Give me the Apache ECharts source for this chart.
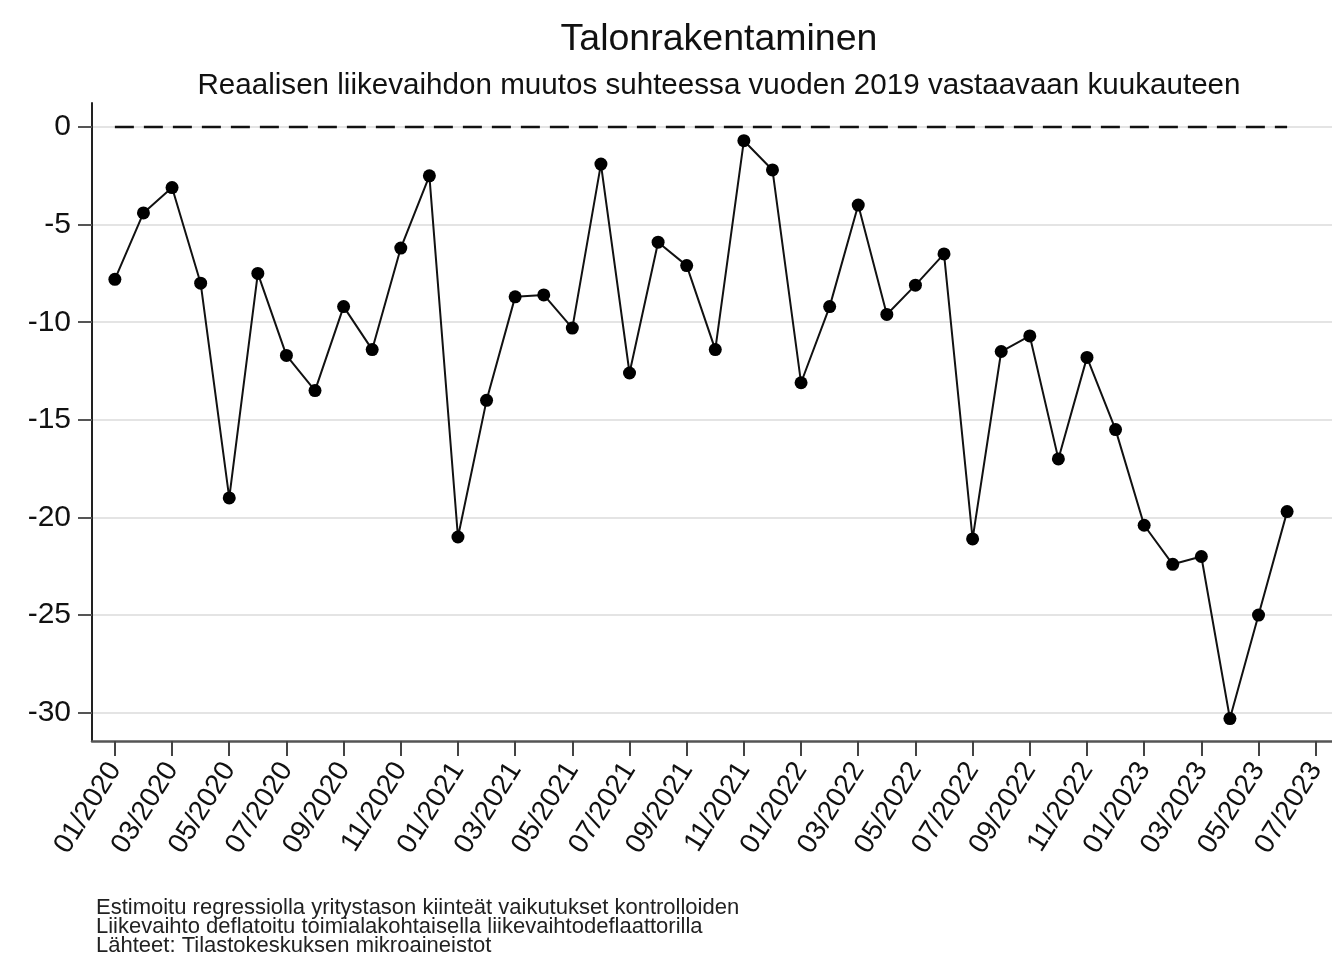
<!DOCTYPE html>
<html>
<head>
    <meta charset="UTF-8">
    <title>Talonrakentaminen</title>
    <script src="https://cdn.jsdelivr.net/npm/echarts@6/dist/echarts.min.js"></script>
    <style>
        body { margin: 0; background: #fff; }
        #chart { width: 1332px; height: 959px; }
    </style>
</head>
<body>
    <div id="chart"></div>
    <script>
        // months 01/2020 .. 06/2023, one value each
        var months = [
            '01/2020', '02/2020', '03/2020', '04/2020', '05/2020', '06/2020', '07/2020', '08/2020', '09/2020', '10/2020', '11/2020', '12/2020',
            '01/2021', '02/2021', '03/2021', '04/2021', '05/2021', '06/2021', '07/2021', '08/2021', '09/2021', '10/2021', '11/2021', '12/2021',
            '01/2022', '02/2022', '03/2022', '04/2022', '05/2022', '06/2022', '07/2022', '08/2022', '09/2022', '10/2022', '11/2022', '12/2022',
            '01/2023', '02/2023', '03/2023', '04/2023', '05/2023', '06/2023', '07/2023'
        ];
        var values = [
            -7.8, -4.4, -3.1, -8.0, -19.0, -7.5, -11.7, -13.5, -9.2, -11.4, -6.2, -2.5,
            -21.0, -14.0, -8.7, -8.6, -10.3, -1.9, -12.6, -5.9, -7.1, -11.4, -0.7, -2.2,
            -13.1, -9.2, -4.0, -9.6, -8.1, -6.5, -21.1, -11.5, -10.7, -17.0, -11.8, -15.5,
            -20.4, -22.4, -22.0, -30.3, -25.0, -19.7
        ];
        var tickMonths = [0, 2, 4, 6, 8, 10, 12, 14, 16, 18, 20, 22, 24, 26, 28, 30, 32, 34, 36, 38, 40, 42];
        var yTicks = [0, -5, -10, -15, -20, -25, -30];
        var notes = [
            'Estimoitu regressiolla yritystason kiinteät vaikutukset kontrolloiden',
            'Liikevaihto deflatoitu toimialakohtaisella liikevaihtodeflaattorilla',
            'Lähteet: Tilastokeskuksen mikroaineistot'
        ];

        var lineData = values.map(function (v, i) { return [i, v]; });
        var zeroData = [[0, 0], [values.length - 1, 0]];

        var chart = echarts.init(document.getElementById('chart'), null, {renderer: 'canvas'});
        var font = '"Liberation Sans", Arial, sans-serif';

        chart.setOption({
            backgroundColor: '#fff',
            animation: false,
            textStyle: {fontFamily: font},
            title: [
                {
                    text: 'Talonrakentaminen',
                    left: 714, top: 16, textAlign: 'center',
                    textStyle: {fontSize: 37.5, fontWeight: 'normal', color: '#111', fontFamily: font}
                },
                {
                    text: 'Reaalisen liikevaihdon muutos suhteessa vuoden 2019 vastaavaan kuukauteen',
                    left: 714, top: 66, textAlign: 'center',
                    textStyle: {fontSize: 29.6, fontWeight: 'normal', color: '#111', fontFamily: font}
                },
                {
                    text: notes.join('\n'),
                    left: 96, top: 898, padding: 0,
                    textStyle: {fontSize: 22, fontWeight: 'normal', color: '#222', lineHeight: 19, fontFamily: font}
                }
            ],
            grid: {left: 92, top: 103, right: 0, bottom: 218, containLabel: false, outerBoundsMode: 'none'},
            xAxis: {
                type: 'value',
                min: -0.8,
                max: 42.57,
                axisLine: {onZero: false, lineStyle: {color: '#555', width: 2.5}},
                axisTick: {show: true, length: 15, lineStyle: {color: '#444', width: 2}, customValues: tickMonths},
                axisLabel: {
                    customValues: tickMonths,
                    rotate: 58,
                    margin: 24,
                    fontSize: 28,
                    color: '#111',
                    formatter: function (v) { return months[Math.round(v)] || ''; }
                },
                splitLine: {show: false}
            },
            yAxis: {
                type: 'value',
                min: -31.45,
                max: 1.23,
                axisLine: {show: true, onZero: false, lineStyle: {color: '#222', width: 2}},
                axisTick: {show: true, length: 14, lineStyle: {color: '#555', width: 2}, customValues: yTicks},
                axisLabel: {customValues: yTicks, margin: 21, fontSize: 30, color: '#111'},
                splitLine: {show: true, lineStyle: {color: '#e4e4e4', width: 2}}
            },
            series: [
                {
                    type: 'line',
                    data: zeroData,
                    symbol: 'none',
                    lineStyle: {color: '#111', width: 2.5, type: [19, 10]},
                    silent: true
                },
                {
                    type: 'line',
                    data: lineData,
                    symbol: 'circle',
                    symbolSize: 13,
                    itemStyle: {color: '#000'},
                    lineStyle: {color: '#111', width: 2}
                }
            ]
        });
    </script>
</body>
</html>
